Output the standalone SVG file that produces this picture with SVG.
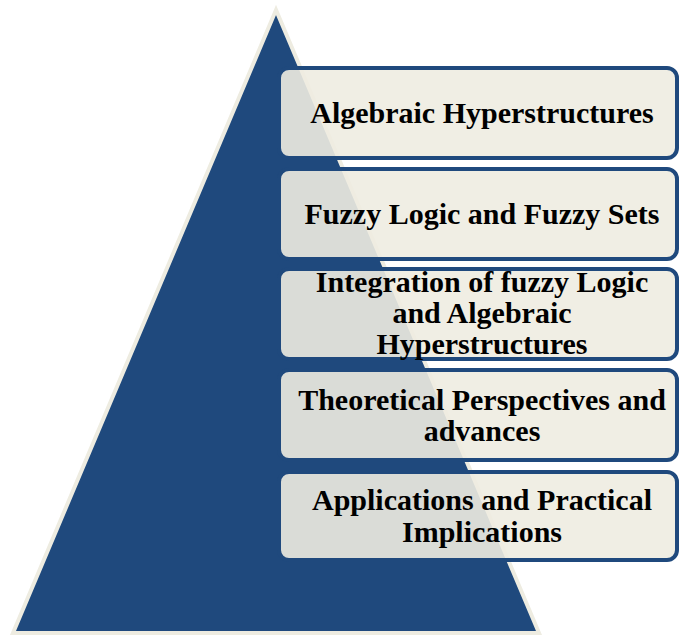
<svg xmlns="http://www.w3.org/2000/svg" width="679" height="637" viewBox="0 0 679 637">
<style>
.box{fill:#EEECE1;fill-opacity:0.9;stroke:#1F497D;stroke-width:4}
.t{font-family:"Liberation Serif","Times New Roman",serif;font-weight:bold;font-size:30px;fill:#000;text-anchor:middle}
</style>
<rect width="679" height="637" fill="#fff"/>
<g id="pyramid">
<polygon points="276,10 13,633 539,633" fill="#1F497D" stroke="#EEECE1" stroke-width="4"/>
</g>
<g id="connectors"/>
<g id="n1">
<rect class="box" x="279" y="68" width="398" height="90" rx="10"/>
<text class="t" x="482" y="123">Algebraic Hyperstructures</text>
</g>
<g id="n2">
<rect class="box" x="279" y="169" width="398" height="90" rx="10"/>
<text class="t" x="482" y="224">Fuzzy Logic and Fuzzy Sets</text>
</g>
<g id="n3">
<rect class="box" x="279" y="269" width="398" height="90" rx="10"/>
<text class="t" x="482" y="292">Integration of fuzzy Logic</text>
<text class="t" x="482" y="323">and Algebraic</text>
<text class="t" x="482" y="354">Hyperstructures</text>
</g>
<g id="n4">
<rect class="box" x="279" y="370" width="398" height="90" rx="10"/>
<text class="t" x="482" y="410">Theoretical Perspectives and</text>
<text class="t" x="482" y="441">advances</text>
</g>
<g id="n5">
<rect class="box" x="279" y="472" width="398" height="88" rx="10"/>
<text class="t" x="482" y="510">Applications and Practical</text>
<text class="t" x="482" y="542">Implications</text>
</g>
</svg>
